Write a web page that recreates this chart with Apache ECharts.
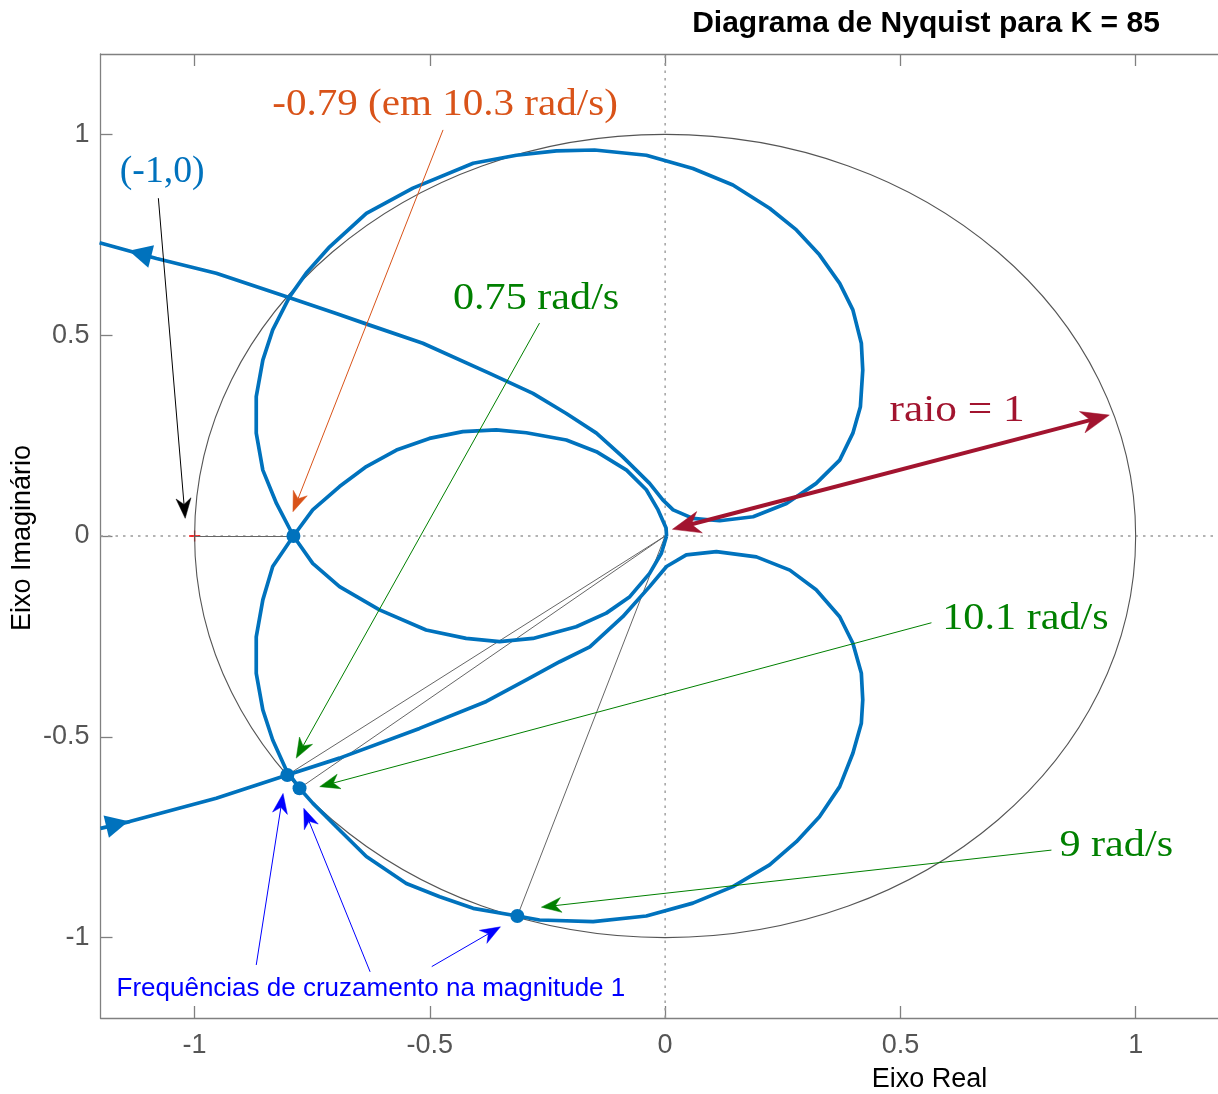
<!DOCTYPE html>
<html>
<head>
<meta charset="utf-8">
<script src="https://cdn.jsdelivr.net/npm/echarts@6/dist/echarts.min.js"></script>
<style>
  html, body { margin: 0; padding: 0; background: #ffffff; }
  #chart { width: 1218px; height: 1094px; }
</style>
</head>
<body>
<div id="chart"></div>
<script>
// ---- axes ----
const xAxisMin = -1.2;
const xAxisMax = 1.175;   // the plot is cut off at the right edge of the figure
const yAxisMin = -1.2;
const yAxisMax = 1.2;
const tickValues = [-1, -0.5, 0, 0.5, 1];

// ---- Nyquist curve, positive frequencies (w: 0+ -> inf) ----
const posRe = [-1.200, -1.138, -0.954, -0.803, -0.692, -0.522, -0.380, -0.295, -0.224, -0.160,
               -0.090, -0.033, 0.003, 0.045, 0.109, 0.194, 0.265, 0.321, 0.371, 0.399,
               0.417, 0.420, 0.417, 0.399, 0.371, 0.328, 0.279, 0.222, 0.144, 0.059,
               -0.040, -0.153, -0.267, -0.314, -0.408, -0.479, -0.550, -0.635, -0.692, -0.749,
               -0.777, -0.805, -0.834, -0.855, -0.869, -0.869, -0.855, -0.834, -0.790, -0.749,
               -0.692, -0.635, -0.571, -0.501, -0.430, -0.359, -0.295, -0.210, -0.146, -0.082,
               -0.040, -0.015, 0.002, 0.003];
const posIm = [-0.728, -0.711, -0.653, -0.595, -0.553, -0.479, -0.412, -0.358, -0.313, -0.276,
               -0.201, -0.126, -0.076, -0.047, -0.039, -0.052, -0.085, -0.134, -0.201, -0.267,
               -0.342, -0.408, -0.466, -0.541, -0.624, -0.699, -0.761, -0.819, -0.873, -0.914,
               -0.946, -0.960, -0.956, -0.946, -0.927, -0.898, -0.865, -0.798, -0.732, -0.665,
               -0.628, -0.583, -0.508, -0.433, -0.342, -0.251, -0.159, -0.076, 0.000, 0.065,
               0.123, 0.173, 0.214, 0.243, 0.260, 0.264, 0.257, 0.239, 0.210, 0.164,
               0.115, 0.065, 0.020, 0.000];

// ---- Nyquist curve, negative frequencies (w: -inf -> 0-) ----
const negRe = [0.003, -0.008, -0.033, -0.075, -0.125, -0.189, -0.281, -0.352, -0.423, -0.508,
               -0.607, -0.692, -0.749, -0.790, -0.826, -0.855, -0.869, -0.869, -0.855, -0.834,
               -0.798, -0.763, -0.713, -0.635, -0.536, -0.408, -0.316, -0.231, -0.150, -0.040,
               0.059, 0.144, 0.222, 0.279, 0.328, 0.371, 0.399, 0.417, 0.420, 0.415,
               0.399, 0.371, 0.321, 0.258, 0.187, 0.116, 0.059, 0.017, -0.005, -0.033,
               -0.090, -0.146, -0.210, -0.281, -0.373, -0.515, -0.628, -0.699, -0.798, -0.954,
               -1.081, -1.202];
const negIm = [0.000, -0.043, -0.093, -0.151, -0.192, -0.226, -0.255, -0.263, -0.255, -0.234,
               -0.184, -0.126, -0.068, 0.000, 0.081, 0.164, 0.256, 0.347, 0.438, 0.513,
               0.596, 0.654, 0.720, 0.803, 0.866, 0.928, 0.948, 0.959, 0.961, 0.948,
               0.915, 0.874, 0.816, 0.762, 0.700, 0.629, 0.563, 0.480, 0.413, 0.322,
               0.256, 0.189, 0.131, 0.081, 0.048, 0.038, 0.044, 0.065, 0.090, 0.131,
               0.197, 0.256, 0.305, 0.355, 0.405, 0.480, 0.525, 0.554, 0.593, 0.654,
               0.691, 0.730];

// direction arrows on the curve (position + heading in degrees)
const dirArrowRe = [-1.164, -1.116];
const dirArrowIm = [-0.717, 0.703];
const dirArrowRot = [-76.6, 75.5];

// ---- key points ----
const unitRadius = 1;
const criticalPoint = [-1, 0];
const phaseCrossRe = -0.79;          // -0.79 at 10.3 rad/s
const gainCrossRe = [-0.803, -0.777, -0.314];   // |G| = 1 at 0.75, 10.1, 9 rad/s
const gainCrossIm = [-0.595, -0.628, -0.946];

// ---- annotation arrows (from -> to), kind selects the style ----
const arrowFromX = [-0.472, -1.077, -0.267, 0.566, 0.821, -0.869, -0.627, -0.496, 0.0155];
const arrowFromY = [1.011, 0.841, 0.530, -0.216, -0.782, -1.068, -1.085, -1.072, 0.0167];
const arrowToX   = [-0.791, -1.020, -0.784, -0.734, -0.263, -0.812, -0.768, -0.350, 0.944];
const arrowToY   = [0.0605, 0.044, -0.553, -0.624, -0.924, -0.641, -0.678, -0.973, 0.301];
const arrowKind  = ['orange', 'black', 'green', 'green', 'green', 'blue', 'blue', 'blue', 'radius'];

// ---- annotation texts (left edge, vertical centre) ----
const labelText = ['-0.79 (em 10.3 rad/s)', '(-1,0)', '0.75 rad/s', 'raio = 1', '10.1 rad/s', '9 rad/s',
                   'Frequências de cruzamento na magnitude 1'];
const labelX = [-0.835, -1.159, -0.451, 0.477, 0.589, 0.838, -1.166];
const labelY = [1.073, 0.905, 0.5895, 0.311, -0.207, -0.772, -1.128];
const labelKind = ['orange', 'blue', 'green', 'radius', 'green', 'green', 'note'];

// ---- styles ----
const curveColor = '#0072BD';
const arrowStyles = {
  orange: { color: '#D95319', width: 1, headLen: 20, headWidth: 15, double: false },
  black:  { color: '#000000', width: 1, headLen: 20, headWidth: 15, double: false },
  green:  { color: '#008000', width: 1, headLen: 20, headWidth: 15, double: false },
  blue:   { color: '#0000FF', width: 1, headLen: 20, headWidth: 15, double: false },
  radius: { color: '#A2142F', width: 4, headLen: 28, headWidth: 22, double: true }
};
const labelStyles = {
  orange: { color: '#D95319', font: '37px "Liberation Serif"', scaleX: 1.11 },
  blue:   { color: '#0072BD', font: '37px "Liberation Serif"', scaleX: 1.02 },
  green:  { color: '#008000', font: '37px "Liberation Serif"', scaleX: 1.14 },
  radius: { color: '#A2142F', font: '37px "Liberation Serif"', scaleX: 1.17 },
  note:   { color: '#0000FF', font: '26px "Liberation Sans"', scaleX: 1 }
};

function zip(a, b) { return a.map((v, i) => [v, b[i]]); }

const axisLineColor = '#808080';
const tickLabelColor = '#555555';

function arrowItem(params, api) {
  const p0 = api.coord([api.value(0), api.value(1)]);
  const p1 = api.coord([api.value(2), api.value(3)]);
  const st = arrowStyles[arrowKind[params.dataIndex]];
  const dx = p1[0] - p0[0], dy = p1[1] - p0[1];
  const len = Math.hypot(dx, dy);
  const ux = dx / len, uy = dy / len;
  const nx = -uy, ny = ux;
  const L = st.headLen, W = st.headWidth / 2;
  function head(tip, ex, ey) {
    const bx = tip[0] - ex * L, by = tip[1] - ey * L;
    const mx = tip[0] - ex * L * 0.7, my = tip[1] - ey * L * 0.7;
    return {
      type: 'polygon',
      shape: { points: [[tip[0], tip[1]], [bx + nx * W, by + ny * W], [mx, my], [bx - nx * W, by - ny * W]] },
      style: { fill: st.color, stroke: st.color, lineWidth: 0.5 }
    };
  }
  const s1 = [p1[0] - ux * L * 0.6, p1[1] - uy * L * 0.6];
  const s0 = st.double ? [p0[0] + ux * L * 0.6, p0[1] + uy * L * 0.6] : p0;
  const children = [
    { type: 'line', shape: { x1: s0[0], y1: s0[1], x2: s1[0], y2: s1[1] },
      style: { stroke: st.color, lineWidth: st.width } },
    head(p1, ux, uy)
  ];
  if (st.double) children.push(head(p0, -ux, -uy));
  return { type: 'group', children: children };
}

function labelItem(params, api) {
  const p = api.coord([api.value(0), api.value(1)]);
  const i = params.dataIndex;
  const st = labelStyles[labelKind[i]];
  return {
    type: 'text',
    x: p[0], y: p[1],
    scaleX: st.scaleX, scaleY: 1,
    style: { text: labelText[i], fill: st.color, font: st.font, align: 'left', verticalAlign: 'middle' }
  };
}

function circleItem(params, api) {
  const c = api.coord([0, 0]);
  const s = api.size([unitRadius, unitRadius]);
  return {
    type: 'ellipse',
    shape: { cx: c[0], cy: c[1], rx: s[0], ry: s[1] },
    style: { fill: null, stroke: '#555555', lineWidth: 1.1 }
  };
}

const xAxisCommon = {
  type: 'value', min: xAxisMin, max: xAxisMax,
  splitLine: { show: false },
  axisLine: { show: true, onZero: false, lineStyle: { color: axisLineColor, width: 1.3 } },
  axisTick: { show: true, inside: true, length: 12, customValues: tickValues,
              lineStyle: { color: axisLineColor, width: 1.3 } }
};

const option = {
  animation: false,
  backgroundColor: '#ffffff',
  grid: { left: 100.5, top: 54, right: 0, bottom: 76, containLabel: false },
  xAxis: [
    Object.assign({}, xAxisCommon, {
      position: 'bottom',
      axisLabel: { customValues: tickValues, color: tickLabelColor, fontSize: 27,
                   fontFamily: 'Liberation Sans', margin: 14 }
    }),
    Object.assign({}, xAxisCommon, { position: 'top', axisLabel: { show: false } })
  ],
  yAxis: [{
    type: 'value', min: yAxisMin, max: yAxisMax, position: 'left',
    splitLine: { show: false },
    axisLine: { show: true, onZero: false, lineStyle: { color: axisLineColor, width: 1.3 } },
    axisTick: { show: true, inside: true, length: 12, customValues: tickValues,
                lineStyle: { color: axisLineColor, width: 1.3 } },
    axisLabel: { customValues: tickValues, color: tickLabelColor, fontSize: 27,
                 fontFamily: 'Liberation Sans', margin: 11 }
  }],
  graphic: [
    { type: 'text', x: 926, y: 23.5, z: 10,
      style: { text: 'Diagrama de Nyquist para K = 85', fill: '#000000',
               font: 'bold 30px "Liberation Sans"', align: 'center', verticalAlign: 'middle' } },
    { type: 'text', x: 929.5, y: 1080, z: 10,
      style: { text: 'Eixo Real', fill: '#000000', font: '27px "Liberation Sans"',
               align: 'center', verticalAlign: 'middle' } },
    { type: 'text', x: 23, y: 538, rotation: Math.PI / 2, z: 10,
      style: { text: 'Eixo Imaginário', fill: '#000000', font: '27px "Liberation Sans"',
               align: 'center', verticalAlign: 'middle' } }
  ],
  series: [
    // zero grid lines through the origin
    { type: 'line', data: [[xAxisMin, 0], [xAxisMax, 0]], symbol: 'none', silent: true, z: 1,
      lineStyle: { color: '#9a9a9a', width: 1.4, type: [2.5, 5] } },
    { type: 'line', data: [[0, yAxisMin], [0, yAxisMax]], symbol: 'none', silent: true, z: 1,
      lineStyle: { color: '#9a9a9a', width: 1.4, type: [2.5, 5] } },
    // critical point marker
    { type: 'scatter', data: [criticalPoint], z: 2, silent: true,
      symbol: 'path://M0,4.4H10V5.6H0Z M4.4,0H5.6V10H4.4Z', symbolSize: 11,
      itemStyle: { color: '#ff0000', opacity: 1 } },
    // unit circle
    { type: 'custom', renderItem: circleItem, data: [[0, 0]], z: 3, silent: true },
    // gain margin segment and radii to the |G| = 1 crossings
    { type: 'lines', coordinateSystem: 'cartesian2d', z: 3, silent: true, symbol: 'none',
      lineStyle: { color: '#666666', width: 1, opacity: 1 },
      data: [{ coords: [criticalPoint, [phaseCrossRe, 0]] }]
        .concat(gainCrossRe.map((re, i) => ({ coords: [[0, 0], [re, gainCrossIm[i]]] }))) },
    // Nyquist curve
    { type: 'line', data: zip(posRe, posIm), symbol: 'none', z: 4, silent: true,
      lineStyle: { color: curveColor, width: 3.7, join: 'round' } },
    { type: 'line', data: zip(negRe, negIm), symbol: 'none', z: 4, silent: true,
      lineStyle: { color: curveColor, width: 3.7, join: 'round' } },
    // direction arrows
    { type: 'scatter', z: 5, silent: true, symbol: 'triangle', symbolSize: [23, 23],
      itemStyle: { color: curveColor, opacity: 1 },
      data: dirArrowRe.map((re, i) => ({ value: [re, dirArrowIm[i]], symbolRotate: dirArrowRot[i] })) },
    // crossing markers
    { type: 'scatter', z: 6, silent: true, symbol: 'circle', symbolSize: 14,
      itemStyle: { color: curveColor, opacity: 1 },
      data: [[phaseCrossRe, 0]].concat(zip(gainCrossRe, gainCrossIm)) },
    // annotation arrows
    { type: 'custom', renderItem: arrowItem, z: 7, silent: true,
      data: arrowFromX.map((x, i) => [x, arrowFromY[i], arrowToX[i], arrowToY[i]]) },
    // annotation texts
    { type: 'custom', renderItem: labelItem, z: 8, silent: true,
      data: zip(labelX, labelY) }
  ]
};

const chart = echarts.init(document.getElementById('chart'));
chart.setOption(option);
</script>
</body>
</html>
